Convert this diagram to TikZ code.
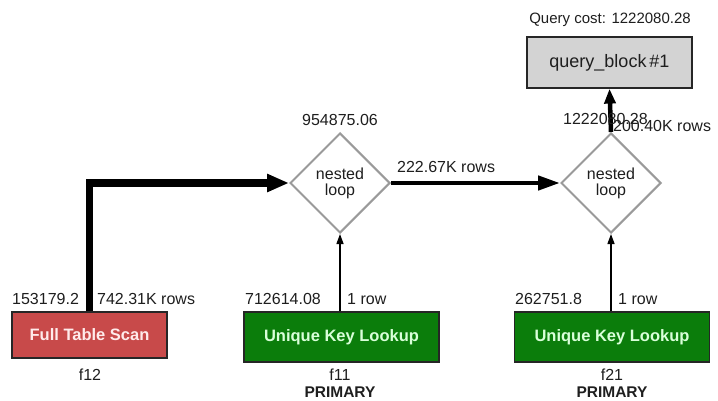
\documentclass[tikz,border=0pt]{standalone}
\usepackage{fontspec}
\setmainfont{Liberation Sans}
\usetikzlibrary{shapes.geometric,arrows.meta}

\definecolor{scanred}{HTML}{C84A4A}
\definecolor{lookupgreen}{HTML}{0B7D0B}
\definecolor{blockgray}{HTML}{D3D3D3}
\definecolor{loopgray}{HTML}{9A9A9A}
\definecolor{labeltext}{HTML}{1E1E1E}

\tikzset{
  lbl/.style={inner sep=0pt, text=labeltext, font=\fontsize{16}{16}\selectfont},
  smalllbl/.style={inner sep=0pt, text=labeltext, font=\fontsize{15}{15}\selectfont},
  keylbl/.style={inner sep=0pt, text=labeltext, font=\bfseries\fontsize{15.5}{15.5}\selectfont},
  opbox/.style={draw=black!85, line width=1.2pt, inner sep=0pt,
    font=\bfseries\fontsize{16.5}{16.5}\selectfont},
  scanbox/.style={opbox, fill=scanred, text=white!92!red,
    minimum width=155pt, minimum height=46pt},
  lookupbox/.style={opbox, fill=lookupgreen, text=white!85!green,
    minimum width=195pt, minimum height=50pt},
  blockbox/.style={draw=black!85, line width=1.2pt, fill=blockgray, inner sep=0pt,
    minimum width=165pt, minimum height=51pt, text=labeltext,
    font=\fontsize{18}{18}\selectfont},
  loopnode/.style={diamond, draw=loopgray, line width=2pt, fill=white, aspect=1,
    inner sep=0pt, minimum width=100pt, minimum height=100pt, align=center,
    text=labeltext, font=\fontsize{16}{16}\selectfont},
  bigflow/.style={line width=7.5pt, draw=black,
    -{Triangle[length=22pt,width=17pt]}},
  midflow/.style={line width=4.5pt, draw=black,
    -{Triangle[length=22pt,width=14pt]}},
  topflow/.style={line width=4.5pt, draw=black,
    -{Triangle[length=15pt,width=11pt]}},
  thinflow/.style={line width=1.3pt, draw=black,
    -{Triangle[length=10pt,width=7pt]}},
}

\begin{document}
\begin{tikzpicture}[x=1pt,y=-1pt]
  \useasboundingbox (0,0) rectangle (718,401);

  % operator nodes
  \node[scanbox]   (scan) at (89.5,335)  {Full Table Scan};
  \node[lookupbox] (lk1)  at (341.5,337) {Unique Key Lookup};
  \node[lookupbox] (lk2)  at (612,337)   {Unique Key Lookup};
  \node[blockbox]  (qb)   at (609.5,62.5) {query\_block\,\#1};
  \node[loopnode]  (nl1)  at (340,183)   {nested\\loop};
  \node[loopnode]  (nl2)  at (611,183)   {nested\\loop};

  % data flow
  \draw[bigflow, line join=miter] (scan.north) |- (nl1.west);
  \draw[midflow] (nl1.east) -- (nl2.west);
  \draw[topflow] (nl2.north) -- (qb.south);
  \draw[thinflow] (lk1.north -| nl1.south) -- (nl1.south);
  \draw[thinflow] (lk2.north -| nl2.south) -- (nl2.south);

  % costs and row counts
  \node[smalllbl] (qcost) at (610,20) {Query cost: 1222080.28};
  \node[lbl] (c1) at (340,120) {954875.06};
  \node[lbl, anchor=west] (r1) at (397,167) {222.67K rows};
  \node[lbl, anchor=west] (c2) at (563,119) {1222080.28};
  \node[lbl, anchor=west] (r2) at (613,126) {200.40K rows};

  \node[lbl, anchor=west] (cscan) at (12,299) {153179.2};
  \node[lbl, anchor=west] (rscan) at (97,299) {742.31K rows};
  \node[lbl, anchor=west] (clk1) at (245,299) {712614.08};
  \node[lbl, anchor=west] (rlk1) at (347,299) {1 row};
  \node[lbl, anchor=west] (clk2) at (515,299) {262751.8};
  \node[lbl, anchor=west] (rlk2) at (618,299) {1 row};

  % table names and keys
  \node[lbl] (t12) at (90,375) {f12};
  \node[lbl] (t11) at (340,375) {f11};
  \node[keylbl] (k11) at (340,392) {PRIMARY};
  \node[lbl] (t21) at (612,375) {f21};
  \node[keylbl] (k21) at (612,392) {PRIMARY};
\end{tikzpicture}
\end{document}
